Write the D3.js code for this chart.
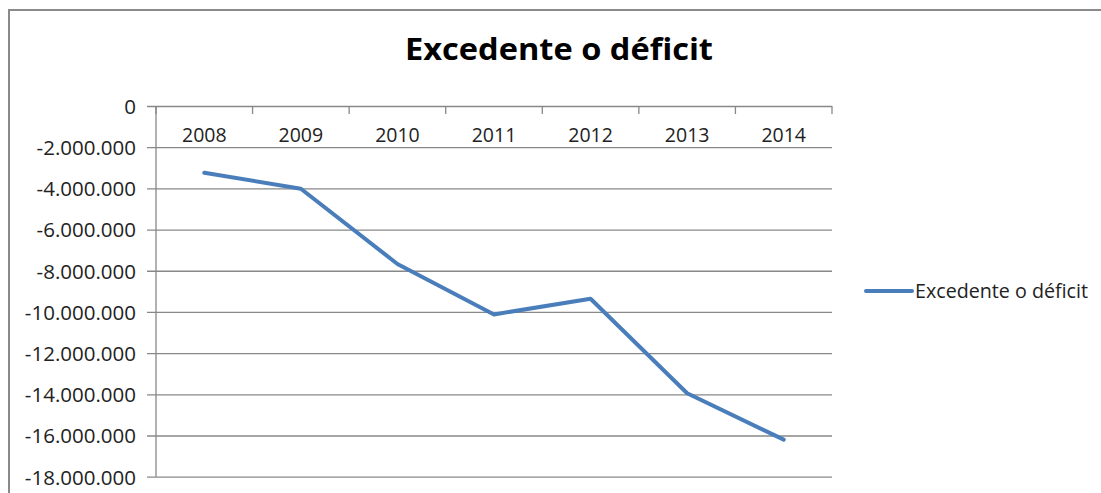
<!DOCTYPE html>
<html>
<head>
<meta charset="utf-8">
<script src="https://cdn.jsdelivr.net/npm/d3@7"></script>
<style>
  html, body { margin: 0; padding: 0; background: #fff; }
  svg { display: block; font-family: "Open Sans", "Noto Sans", sans-serif; }
  svg text { font-family: "Open Sans", "Noto Sans", sans-serif; }
</style>
</head>
<body>
<svg id="chart" width="1101" height="493"></svg>
<script>
const title = "Excedente o déficit";
const seriesName = "Excedente o déficit";
const categories = ["2008", "2009", "2010", "2011", "2012", "2013", "2014"];
const values = [-3240000, -4020000, -7670000, -10120000, -9360000, -13950000, -16200000];
const yTicks = [0, -2000000, -4000000, -6000000, -8000000, -10000000, -12000000, -14000000, -16000000, -18000000];

const svg = d3.select("#chart");
const W = 1101, H = 493;
const plot = { left: 156, right: 832, top: 106, bottom: 476.7 };
const gridColor = "#888888";
const lineColor = "#4A7EBB";
const textColor = "#222222";
const fontFam = '"Open Sans", "Noto Sans", sans-serif';

// outer chart border (clipped at right and bottom like the reference)
svg.append("rect")
  .attr("x", 9).attr("y", 10)
  .attr("width", W + 20).attr("height", H + 20)
  .attr("fill", "#fff")
  .attr("stroke", "#8a8a8a").attr("stroke-width", 2);

const x = d3.scaleBand().domain(categories).range([plot.left, plot.right]).padding(0);
const y = d3.scaleLinear().domain([d3.min(yTicks), d3.max(yTicks)]).range([plot.bottom, plot.top]);

const loc = d3.formatLocale({ decimal: ",", thousands: ".", grouping: [3], currency: ["", ""], minus: "-" });
const fmt = loc.format(",");

// Y axis with gridlines
const tickOut = 9;
const yAxis = d3.axisLeft(y)
  .tickValues(yTicks)
  .tickFormat(fmt)
  .tickSizeInner(-(plot.right - plot.left + tickOut))
  .tickSizeOuter(0)
  .tickPadding(11);
const gy = svg.append("g")
  .attr("transform", `translate(${plot.left - tickOut},0)`)
  .call(yAxis)
  .attr("font-family", fontFam);
gy.select(".domain").remove();
gy.selectAll(".tick line").attr("stroke", gridColor).attr("stroke-width", 1.3);
gy.selectAll(".tick text")
  .attr("fill", textColor)
  .style("font-family", fontFam)
  .style("font-size", "20.5px")
  .attr("dy", "0.36em");

// vertical axis line
svg.append("line")
  .attr("x1", plot.left).attr("x2", plot.left)
  .attr("y1", y(0)).attr("y2", plot.bottom)
  .attr("stroke", gridColor).attr("stroke-width", 1.3);

// X axis (at value 0) : labels below, tick marks at category boundaries
const xAxis = d3.axisBottom(x).tickSize(0).tickPadding(0);
const gx = svg.append("g")
  .attr("transform", `translate(0,${y(0)})`)
  .call(xAxis)
  .attr("font-family", fontFam);
gx.select(".domain").remove();
gx.selectAll(".tick text")
  .attr("fill", textColor)
  .style("font-family", fontFam)
  .style("font-size", "19.5px")
  .attr("y", 35.5)
  .attr("dy", null);

const boundaries = categories.map(c => x(c)).concat([x.range()[1]]);
svg.append("g").selectAll("line")
  .data(boundaries)
  .join("line")
  .attr("x1", d => d).attr("x2", d => d)
  .attr("y1", y(0)).attr("y2", y(0) + 8)
  .attr("stroke", gridColor).attr("stroke-width", 1.3);

// series line
const line = d3.line()
  .x((d, i) => x(categories[i]) + x.bandwidth() / 2)
  .y(d => y(d));
svg.append("path")
  .datum(values)
  .attr("d", line)
  .attr("fill", "none")
  .attr("stroke", lineColor)
  .attr("stroke-width", 4)
  .attr("stroke-linejoin", "round")
  .attr("stroke-linecap", "round");

// title
svg.append("text")
  .attr("x", 559).attr("y", 60)
  .attr("text-anchor", "middle")
  .attr("fill", "#000")
  .style("font-size", "30px")
  .style("font-weight", "bold")
  .attr("textLength", 308)
  .attr("lengthAdjust", "spacingAndGlyphs")
  .text(title);

// legend
const lg = svg.append("g").attr("transform", "translate(866,291)");
lg.append("line")
  .attr("x1", 0).attr("x2", 46)
  .attr("y1", 0).attr("y2", 0)
  .attr("stroke", lineColor).attr("stroke-width", 4)
  .attr("stroke-linecap", "round");
lg.append("text")
  .attr("x", 49).attr("y", 7)
  .attr("fill", textColor)
  .style("font-size", "19.5px")
  .attr("textLength", 173)
  .attr("lengthAdjust", "spacingAndGlyphs")
  .text(seriesName);
</script>
</body>
</html>
